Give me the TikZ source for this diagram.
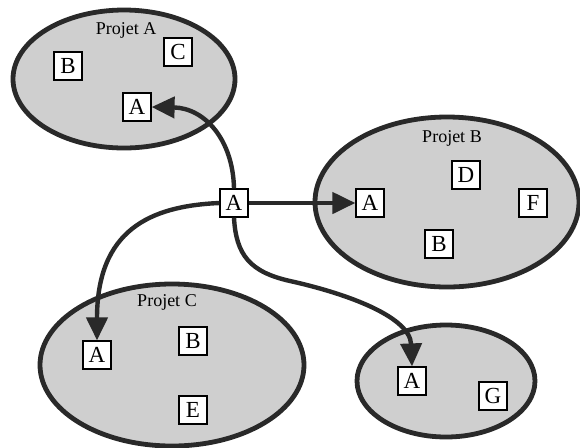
\documentclass[tikz,border=0pt]{standalone}
\usepackage{fontspec}
\setmainfont{Liberation Serif}
\usetikzlibrary{shapes.geometric,arrows.meta}
\definecolor{fond}{gray}{0.81}
\definecolor{trait}{gray}{0.16}
\tikzset{
  projet/.style={ellipse,draw=trait,line width=2.4pt,fill=fond,inner sep=0pt},
  tache/.style={draw,fill=white,line width=0.6pt,minimum size=14pt,inner sep=0pt,
    font=\fontsize{11.5}{12}\selectfont},
  titre/.style={font=\fontsize{9}{10}\selectfont},
  lien/.style={draw=trait,line width=2.2pt,-{Triangle[length=11.5pt,width=10.5pt]}}
}
\begin{document}
\begin{tikzpicture}[x=0.5pt,y=-0.5pt]
  \useasboundingbox (0,0) rectangle (580,447);
  \node[projet,minimum width=111pt,minimum height=69pt] (projA) at (124,79) {};
  \node[projet,minimum width=132pt,minimum height=85pt] (projB) at (447,202) {};
  \node[projet,minimum width=132pt,minimum height=81pt] (projC) at (172,365) {};
  \node[projet,minimum width=89pt,minimum height=56pt] (projD) at (446,381) {};
  \node[titre] (tA) at (126,30) {Projet A};
  \node[titre] (tB) at (452,138) {Projet B};
  \node[titre] (tC) at (167,302) {Projet C};
  \node[tache] (bA) at (68,66) {B};
  \node[tache] (cA) at (178,52) {C};
  \node[tache] (aA) at (137,107) {A};
  \node[tache] (aB) at (370,203) {A};
  \node[tache] (dB) at (466,175) {D};
  \node[tache] (fB) at (533,203) {F};
  \node[tache] (bB) at (439,244) {B};
  \node[tache] (aC) at (97,355) {A};
  \node[tache] (bC) at (193,341) {B};
  \node[tache] (eC) at (193,410) {E};
  \node[tache] (aD) at (412,381) {A};
  \node[tache] (gD) at (493,396) {G};
  \node[tache] (a) at (234,203) {A};
  \coordinate (coude) at (290,281);
  \draw[lien] (a.north) .. controls (233,140) and (205,108) .. (aA.east);
  \draw[lien] (a) -- (aB);
  \draw[lien] (a.west) .. controls (150,206) and (97,230) .. (aC.north);
  \draw[lien] (a.south) .. controls (236,255) and (250,272) .. (coude)
    .. controls (340,292) and (410,315) .. (aD.north);
\end{tikzpicture}
\end{document}
